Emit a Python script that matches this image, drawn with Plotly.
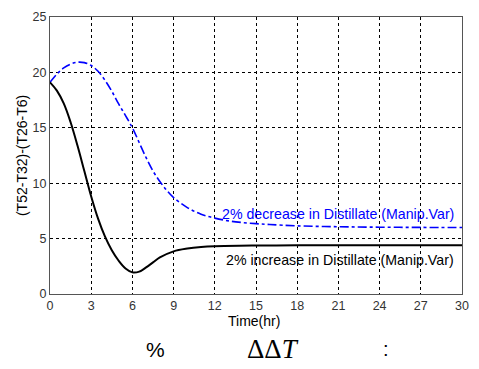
import plotly.graph_objects as go

# Time (hr)
t_dec = [0, 0.5, 1, 1.5, 2, 2.5, 3, 3.5, 4, 4.5, 5, 5.5, 6, 6.5, 7, 7.5, 8, 8.5, 9, 10, 11, 12, 13, 14, 15, 16, 18, 21, 24, 27, 30]
dec_vals = [19.1, 19.85, 20.4, 20.75, 20.92, 20.88, 20.62, 20.1, 19.3, 18.3, 17.15, 16.1, 15.0, 13.65, 12.3, 11.1, 10.15, 9.35, 8.7, 7.8, 7.2, 6.85, 6.6, 6.45, 6.35, 6.27, 6.15, 6.07, 6.03, 6.01, 6.0]

t_inc = [0, 0.5, 1, 1.5, 2, 2.5, 3, 3.5, 4, 4.5, 5, 5.5, 6, 6.5, 7, 7.5, 8, 9, 10, 11, 12, 15, 18, 21, 24, 27, 30]
inc_vals = [19.1, 18.35, 17.2, 15.5, 13.4, 11.1, 8.8, 6.8, 5.2, 3.95, 3.0, 2.3, 1.95, 2.02, 2.4, 2.85, 3.3, 3.85, 4.1, 4.24, 4.31, 4.37, 4.39, 4.4, 4.4, 4.4, 4.4]

x_ticks = [0, 3, 6, 9, 12, 15, 18, 21, 24, 27, 30]
y_ticks = [0, 5, 10, 15, 20, 25]

label_dec = "2% decrease in Distillate (Manip.Var)"
label_inc = "2% increase in Distillate (Manip.Var)"

fig = go.Figure()
fig.add_trace(go.Scatter(x=t_dec, y=dec_vals, mode="lines",
                         line=dict(color="#0000ff", width=1.6, dash="dashdot", shape="spline", smoothing=1.0),
                         showlegend=False))
fig.add_trace(go.Scatter(x=t_inc, y=inc_vals, mode="lines",
                         line=dict(color="black", width=2, shape="spline", smoothing=1.0),
                         showlegend=False))

axis_common = dict(
    showgrid=True, gridcolor="black", gridwidth=1, griddash="3px,3px",
    zeroline=False, showline=True, linecolor="#555555", linewidth=1, mirror=True,
    ticks="", tickfont=dict(family="Liberation Sans, Arial", size=12.5, color="#333333"),
)

fig.update_xaxes(range=[0, 30], tickvals=x_ticks, ticktext=[str(v) for v in x_ticks], **axis_common)
fig.update_yaxes(range=[0, 25], tickvals=y_ticks, ticktext=[str(v) for v in y_ticks], **axis_common)

annots = [
    dict(x=29.55, y=7.2, xref="x", yref="y", text=label_dec, showarrow=False, xanchor="right", yanchor="middle",
         font=dict(family="Liberation Sans, Arial", size=14.2, color="#0000ff")),
    dict(x=29.55, y=3.1, xref="x", yref="y", text=label_inc, showarrow=False, xanchor="right", yanchor="middle",
         font=dict(family="Liberation Sans, Arial", size=14.2, color="black")),
    dict(x=0.496, y=-0.099, xref="paper", yref="paper", text="Time(hr)", showarrow=False,
         xanchor="center", yanchor="middle", font=dict(family="Liberation Sans, Arial", size=14, color="black")),
    dict(x=-0.069, y=0.5, xref="paper", yref="paper", text="(T52-T32)-(T26-T6)", showarrow=False, textangle=-90,
         xanchor="center", yanchor="middle", font=dict(family="Liberation Sans, Arial", size=14, color="black")),
    dict(x=0.255, y=-0.199, xref="paper", yref="paper", text="%", showarrow=False,
         xanchor="center", yanchor="middle", font=dict(family="Liberation Sans, Arial", size=21, color="black")),
    dict(x=0.542, y=-0.199, xref="paper", yref="paper", text="ΔΔ<i>T</i>", showarrow=False,
         xanchor="center", yanchor="middle", font=dict(family="Liberation Serif, Times New Roman", size=27, color="black")),
    dict(x=0.816, y=-0.199, xref="paper", yref="paper", text=":", showarrow=False,
         xanchor="center", yanchor="middle", font=dict(family="Liberation Sans, Arial", size=20, color="black")),
]

fig.update_layout(
    width=479, height=369,
    margin=dict(l=50, r=10, t=12, b=75),
    paper_bgcolor="white", plot_bgcolor="white",
    annotations=annots,
)

fig.write_html("out.html")
